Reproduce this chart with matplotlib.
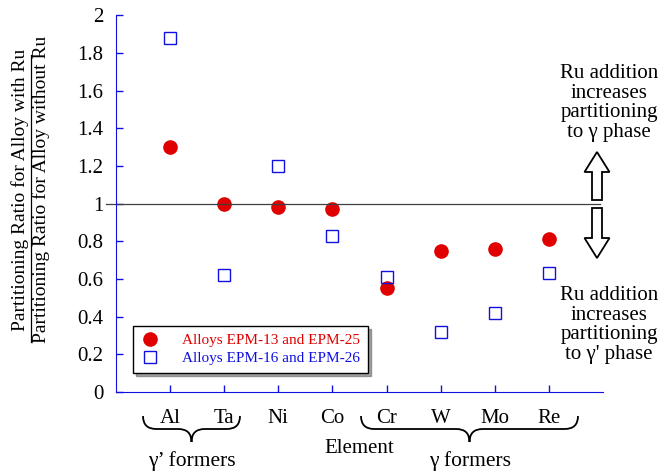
import matplotlib.pyplot as plt
from matplotlib.path import Path
from matplotlib.patches import PathPatch, FancyArrow
from matplotlib.lines import Line2D

# ===== data =====
elements = ["Al", "Ta", "Ni", "Co", "Cr", "W", "Mo", "Re"]
epm_13_25 = [1.30, 1.00, 0.98, 0.97, 0.55, 0.75, 0.76, 0.81]
epm_16_26 = [1.88, 0.62, 1.20, 0.83, 0.61, 0.32, 0.42, 0.63]

plt.rcParams["font.family"] = ["Liberation Serif", "DejaVu Serif"]
blue = "#1010e0"
red = "#e00000"

fig = plt.figure(figsize=(6.64, 4.74), dpi=100)
ax = fig.add_axes([0.1747, 0.173, 0.7333, 0.795])

xpos = list(range(1, len(elements) + 1))
ax.plot(xpos, epm_13_25, "o", color=red, markersize=9.5, linestyle="none",
        label="Alloys EPM-13 and EPM-25")
ax.plot(xpos, epm_16_26, "s", markerfacecolor="none", markeredgecolor=blue,
        markersize=9, markeredgewidth=1.0, linestyle="none",
        label="Alloys EPM-16 and EPM-26")

ax.axhline(1.0, color="#404040", linewidth=0.9, xmin=-0.02, xmax=0.995, clip_on=False)

ax.set_xlim(0, 9)
ax.set_ylim(0, 2)
ax.set_xticks(xpos)
ax.set_xticklabels(elements)
ax.set_yticks([0, 0.2, 0.4, 0.6, 0.8, 1, 1.2, 1.4, 1.6, 1.8, 2])
ax.set_yticklabels(["0", "0.2", "0.4", "0.6", "0.8", "1", "1.2", "1.4", "1.6", "1.8", "2"])
ax.tick_params(direction="in", color=blue, length=5, labelsize=15, width=1)
ax.tick_params(axis="x", pad=12)
ax.tick_params(axis="y", pad=9)
for s in ["top", "right"]:
    ax.spines[s].set_visible(False)
for s in ["left", "bottom"]:
    ax.spines[s].set_color(blue)

ax.set_xlabel("Element", fontsize=15)
ax.xaxis.label.set_va("center")
ax.xaxis.set_label_coords(0.5, -0.149)

leg = ax.legend(loc="lower left", bbox_to_anchor=(0.02, 0.03), fontsize=11,
                frameon=True, shadow=True, fancybox=False, handletextpad=1.5,
                borderpad=0.5, labelspacing=0.3, handlelength=1.2)
leg.get_frame().set_edgecolor("black")
leg.get_frame().set_linewidth(1.0)
for txt, c in zip(leg.get_texts(), [red, blue]):
    txt.set_color(c)

# ===== y label as fraction =====
fig.text(0.030, 0.60, "Partitioning Ratio for Alloy with Ru", rotation=90,
         ha="center", va="center", fontsize=14)
fig.text(0.062, 0.60, "Partitioning Ratio for Alloy without Ru", rotation=90,
         ha="center", va="center", fontsize=14)
fig.add_artist(Line2D([0.047, 0.047], [0.278, 0.885], color="black", linewidth=0.9))

# ===== right annotations =====
fig.text(609 / 664, 1 - 103 / 474, "Ru addition\nincreases\npartitioning\nto \u03b3 phase",
         ha="center", va="center", fontsize=15, linespacing=1.05)
fig.text(609 / 664, 1 - 325 / 474, "Ru addition\nincreases\npartitioning\nto \u03b3' phase",
         ha="center", va="center", fontsize=15, linespacing=1.05)
ax_x = 597 / 664
fig.add_artist(FancyArrow(ax_x, 1 - 200 / 474, 0, 48 / 474, width=10 / 664,
                          head_width=25 / 664, head_length=20 / 474,
                          facecolor="white", edgecolor="black", linewidth=1.3,
                          transform=fig.transFigure, length_includes_head=True))
fig.add_artist(FancyArrow(ax_x, 1 - 208 / 474, 0, -50 / 474, width=10 / 664,
                          head_width=25 / 664, head_length=20 / 474,
                          facecolor="white", edgecolor="black", linewidth=1.3,
                          transform=fig.transFigure, length_includes_head=True))


# ===== braces under x labels =====
def brace(x0, x1, ytop, ybot, tr):
    xm = (x0 + x1) / 2
    ym = (ytop + ybot) / 2
    verts = [(x0, ytop), (x0, ym), (x0 + 0.02, ym), (xm - 0.02, ym),
             (xm, ym), (xm, ybot),
             (xm, ym), (xm + 0.02, ym), (x1 - 0.02, ym),
             (x1, ym), (x1, ytop)]
    codes = [Path.MOVETO, Path.CURVE3, Path.CURVE3, Path.LINETO,
             Path.CURVE3, Path.CURVE3,
             Path.CURVE3, Path.CURVE3, Path.LINETO,
             Path.CURVE3, Path.CURVE3]
    fig.add_artist(PathPatch(Path(verts, codes), facecolor="none",
                             edgecolor="black", linewidth=1.3, transform=tr))


brace(143 / 664, 240 / 664, 1 - 416 / 474, 1 - 442 / 474, fig.transFigure)
brace(361 / 664, 578 / 664, 1 - 416 / 474, 1 - 442 / 474, fig.transFigure)
fig.text(192 / 664, 1 - 461 / 474, "\u03b3\u2019 formers", ha="center", va="center", fontsize=15.5)
fig.text(470 / 664, 1 - 461 / 474, "\u03b3 formers", ha="center", va="center", fontsize=15.5)

plt.savefig("out.png", dpi=100)
